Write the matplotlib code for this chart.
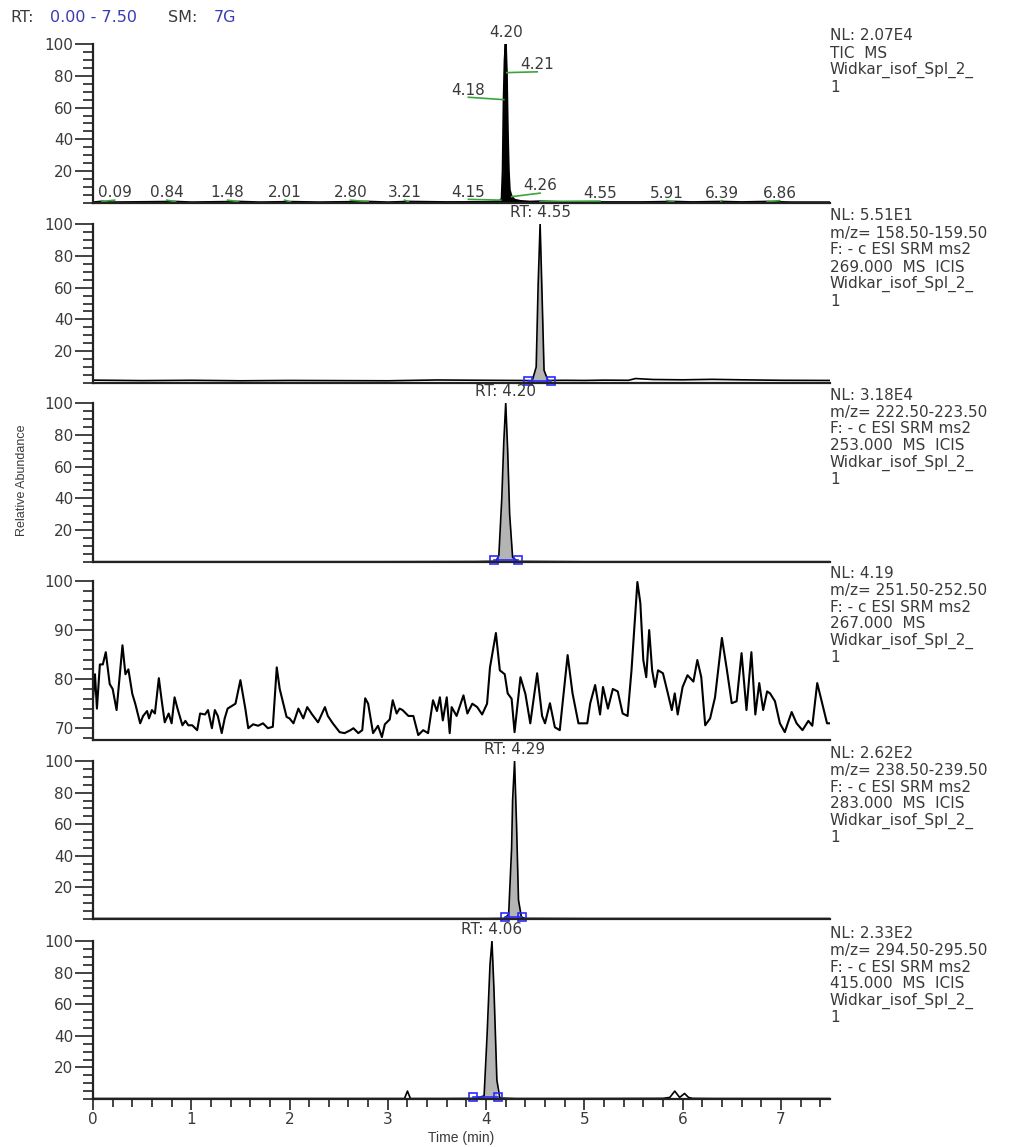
import numpy as np
import matplotlib.pyplot as plt
from matplotlib.ticker import MultipleLocator

plt.rcParams['font.family'] = ['DejaVu Sans']

W, H = 1021, 1147
TXT = '#3a3a3a'
GREEN = '#3aa63a'
BLUE = '#2a2aff'

# ---- panel 1: TIC ----
tic_t = [0.0, 0.09, 0.2, 0.84, 1.0, 1.48, 1.7, 2.01, 2.3, 2.80, 3.0, 3.21, 3.6, 4.0, 4.12,
         4.15, 4.16, 4.17, 4.18, 4.19, 4.20, 4.21, 4.22, 4.23, 4.24, 4.26, 4.29, 4.35, 4.45,
         4.55, 4.8, 5.2, 5.6, 5.91, 6.1, 6.39, 6.6, 6.86, 7.1, 7.5]
tic_v = [0.4, 0.9, 0.4, 0.8, 0.4, 0.8, 0.4, 0.7, 0.4, 0.8, 0.4, 0.8, 0.5, 0.6, 1.0,
         1.8, 3.0, 20, 65, 90, 100, 82, 45, 20, 8, 4, 2.0, 1.2, 0.8,
         1.0, 0.5, 0.5, 0.5, 0.8, 0.5, 0.8, 0.5, 0.8, 0.4, 0.4]
tic_lab = [0.09, 0.84, 1.48, 2.01, 2.80, 3.21, 4.15, 4.18, 4.21, 4.26, 4.55, 5.91, 6.39, 6.86]
tic_lab_v = [0.9, 0.8, 0.8, 0.7, 0.8, 0.8, 1.8, 65, 82, 4, 1.0, 0.8, 0.8, 0.8]
tic_lab_tx = [0.22, 0.75, 1.37, 1.95, 2.62, 3.17, 3.82, 3.82, 4.52, 4.55, 5.16, 5.84, 6.40, 6.99]
tic_lab_ty = [6.3, 6.3, 6.3, 6.3, 6.3, 6.3, 6.8, 71, 87, 10.7, 5.7, 6.0, 6.0, 6.0]

# ---- panel 2: m/z 158.5 ----
p2_t = [0.0, 0.5, 1.0, 1.5, 2.0, 2.5, 3.0, 3.5, 4.0, 4.3, 4.47, 4.51, 4.53, 4.55, 4.57,
        4.59, 4.63, 4.8, 5.0, 5.2, 5.45, 5.52, 5.7, 6.0, 6.3, 6.6, 7.0, 7.5]
p2_v = [1.8, 1.5, 1.7, 1.4, 1.6, 1.5, 1.4, 1.9, 1.7, 1.6, 1.5, 10, 62, 100, 55,
        8, 1.6, 1.7, 1.6, 1.8, 1.7, 2.8, 2.2, 2.0, 2.3, 2.0, 1.7, 1.6]

# ---- panel 3: m/z 222.5 ----
p3_t = [0.0, 1.0, 2.0, 3.0, 3.9, 4.10, 4.13, 4.16, 4.18, 4.20, 4.22, 4.24, 4.27, 4.32, 5.0, 6.0, 7.0, 7.5]
p3_v = [0.2, 0.2, 0.2, 0.2, 0.3, 0.5, 4, 40, 75, 100, 70, 30, 3, 0.4, 0.2, 0.2, 0.2, 0.2]

# ---- panel 4: m/z 251.5 (noise) ----
p4_t = [0.00, 0.02, 0.04, 0.07, 0.10, 0.13, 0.17, 0.20, 0.24, 0.30, 0.33, 0.36, 0.40, 0.43,
        0.48, 0.51, 0.55, 0.57, 0.60, 0.63, 0.67, 0.70, 0.73, 0.77, 0.80, 0.83, 0.86, 0.91,
        0.94, 0.97, 1.01, 1.06, 1.09, 1.14, 1.17, 1.21, 1.24, 1.27, 1.31, 1.34, 1.37, 1.41,
        1.45, 1.50, 1.55, 1.58, 1.63, 1.68, 1.73, 1.78, 1.83, 1.87, 1.90, 1.97, 2.00, 2.04,
        2.09, 2.14, 2.18, 2.23, 2.26, 2.29, 2.36, 2.39, 2.44, 2.51, 2.56, 2.62, 2.65, 2.70,
        2.74, 2.77, 2.80, 2.85, 2.90, 2.94, 2.97, 3.02, 3.05, 3.09, 3.12, 3.15, 3.21, 3.26,
        3.31, 3.36, 3.41, 3.46, 3.50, 3.53, 3.56, 3.60, 3.63, 3.65, 3.70, 3.77, 3.81, 3.86,
        3.91, 3.96, 4.01, 4.04, 4.10, 4.14, 4.19, 4.22, 4.26, 4.29, 4.35, 4.40, 4.45, 4.52,
        4.57, 4.60, 4.65, 4.70, 4.75, 4.83, 4.88, 4.94, 4.99, 5.03, 5.06, 5.11, 5.16, 5.19,
        5.24, 5.29, 5.34, 5.39, 5.44, 5.48, 5.54, 5.57, 5.60, 5.63, 5.66, 5.69, 5.72, 5.75,
        5.80, 5.85, 5.89, 5.92, 5.95, 6.00, 6.05, 6.11, 6.15, 6.19, 6.23, 6.28, 6.33, 6.40,
        6.45, 6.50, 6.55, 6.60, 6.65, 6.70, 6.74, 6.78, 6.82, 6.86, 6.89, 6.94, 6.99, 7.04,
        7.07, 7.11, 7.16, 7.22, 7.28, 7.32, 7.37, 7.42, 7.47, 7.50]
p4_v = [76, 81, 74, 83, 83, 85.5, 79, 78, 73.7, 86.9, 81, 82, 77, 75,
        71, 72.5, 73.5, 72, 73.7, 73, 80.2, 75.5, 71.2, 73, 71, 76.3, 74, 70.6,
        71.5, 70.6, 70.6, 69.6, 73, 72.8, 73.7, 70, 73.7, 72.5, 69, 72, 74, 74.5,
        75, 79.8, 74, 70, 70.8, 70.5, 71, 70, 70.3, 82.4, 78, 72.3, 72, 71,
        74, 72, 74.3, 72.8, 72, 71.2, 74.3, 72.5, 71, 69.2, 69, 69.6, 70, 69,
        69.6, 76.1, 75, 69, 70.5, 68.2, 70.8, 71.8, 75.7, 73, 74, 73.7, 72.5, 72.5,
        68.6, 69.6, 69, 75.7, 73.5, 76.3, 71.6, 76.3, 69, 74.3, 72.5, 76.7, 73, 75,
        74.3, 72.8, 75, 82.4, 89.4, 81.8, 81, 77.1, 76, 69.2, 80.4, 77, 71, 81.2,
        72.5, 71, 75.1, 70.2, 69.6, 84.9, 77.1, 71, 71, 71, 75.1, 78.8, 72.8, 78.4,
        74, 78, 77.5, 73, 72.5, 81.8, 99.8, 95.5, 83.9, 80.4, 90, 81.8, 78.4, 81.8,
        81.2, 77.1, 73.7, 77.1, 72.8, 78.4, 80.8, 79.5, 83.9, 80.4, 70.6, 72, 76.3, 88.4,
        82, 75.1, 75.5, 85.3, 73.7, 85.5, 72.8, 79.2, 73.7, 77.5, 77.1, 75.5, 71, 69.2,
        71, 73.3, 71, 69.6, 71.5, 70.5, 79.2, 75.1, 71, 71]

# ---- panel 5: m/z 238.5 ----
p5_t = [0.0, 1.0, 2.0, 3.0, 4.0, 4.19, 4.23, 4.26, 4.27, 4.29, 4.31, 4.33, 4.36, 4.40, 5.0, 6.0, 7.0, 7.5]
p5_v = [0.3, 0.3, 0.3, 0.3, 0.3, 0.4, 3, 45, 75, 100, 60, 12, 1, 0.4, 0.3, 0.3, 0.3, 0.3]

# ---- panel 6: m/z 294.5 ----
p6_t = [0.0, 1.0, 2.0, 3.0, 3.17, 3.20, 3.23, 3.6, 3.9, 3.98, 4.01, 4.04, 4.06, 4.08, 4.11,
        4.14, 4.3, 5.0, 5.8, 5.87, 5.92, 5.97, 6.02, 6.06, 6.10, 6.3, 7.0, 7.5]
p6_v = [0.3, 0.3, 0.3, 0.3, 0.3, 5, 0.3, 0.3, 0.4, 2, 40, 85, 100, 70, 12,
        0.6, 0.3, 0.3, 0.4, 1.0, 5, 1.0, 3.5, 1.0, 0.4, 0.3, 0.3, 0.3]

srm = [
    (p2_t, p2_v, 4.55, (4.43, 4.66)),
    (p3_t, p3_v, 4.20, (4.08, 4.33)),
    (p5_t, p5_v, 4.29, (4.19, 4.37)),
    (p6_t, p6_v, 4.06, (3.87, 4.12)),
]

info = [
    ["NL: 2.07E4", "TIC  MS", "Widkar_isof_Spl_2_", "1"],
    ["NL: 5.51E1", "m/z= 158.50-159.50", "F: - c ESI SRM ms2", "269.000  MS  ICIS", "Widkar_isof_Spl_2_", "1"],
    ["NL: 3.18E4", "m/z= 222.50-223.50", "F: - c ESI SRM ms2", "253.000  MS  ICIS", "Widkar_isof_Spl_2_", "1"],
    ["NL: 4.19", "m/z= 251.50-252.50", "F: - c ESI SRM ms2", "267.000  MS", "Widkar_isof_Spl_2_", "1"],
    ["NL: 2.62E2", "m/z= 238.50-239.50", "F: - c ESI SRM ms2", "283.000  MS  ICIS", "Widkar_isof_Spl_2_", "1"],
    ["NL: 2.33E2", "m/z= 294.50-295.50", "F: - c ESI SRM ms2", "415.000  MS  ICIS", "Widkar_isof_Spl_2_", "1"],
]

# panel pixel extents (top = 100 %, bottom = axis line)
tops = [44, 224, 403, 581, 761, 941]
bots = [203, 383, 562, 740, 919, 1099]

fig = plt.figure(figsize=(W / 100, H / 100), dpi=100)
fig.patch.set_facecolor('white')

axes = []
for i in range(6):
    ax = fig.add_axes([93 / W, 1 - bots[i] / H, 737 / W, (bots[i] - tops[i]) / H])
    ax.set_xlim(0, 7.5)
    for s in ['top', 'right']:
        ax.spines[s].set_visible(False)
    for s in ['left', 'bottom']:
        ax.spines[s].set_linewidth(1.6)
        ax.spines[s].set_color('#222222')
    ax.tick_params(axis='y', which='major', direction='out', length=13, width=1.2,
                   color='#222222', labelsize=11, labelcolor=TXT, pad=1)
    ax.tick_params(axis='y', which='minor', direction='out', length=7, width=1.2, color='#222222')
    if i == 3:
        ax.set_ylim(67.6, 100)
        ax.set_yticks([70, 80, 90, 100])
        ax.yaxis.set_minor_locator(MultipleLocator(2))
    else:
        ax.set_ylim(0, 100)
        ax.set_yticks([20, 40, 60, 80, 100])
        ax.yaxis.set_minor_locator(MultipleLocator(5))
    if i < 5:
        ax.set_xticks([])
    else:
        ax.set_xticks(range(8))
        ax.xaxis.set_minor_locator(MultipleLocator(0.2))
        ax.tick_params(axis='x', which='major', direction='out', length=8, width=1.2,
                       color='#222222', labelsize=11, labelcolor=TXT, pad=1)
        ax.tick_params(axis='x', which='minor', direction='out', length=6, width=1.2, color='#222222')
    for k, line in enumerate(info[i]):
        fig.text(830 / W, 1 - (tops[i] - 8 + 17 * k) / H, line, ha='left', va='center',
                 fontsize=11, color=TXT)
    axes.append(ax)

# TIC
ax = axes[0]
ax.fill_between(tic_t, 0, tic_v, color='black', lw=0)
ax.plot(tic_t, tic_v, color='black', lw=1.6)
ax.text(4.20, 107, "4.20", ha='center', va='center', fontsize=11, color=TXT, clip_on=False)
for t, v, tx, ty in zip(tic_lab, tic_lab_v, tic_lab_tx, tic_lab_ty):
    ax.plot([t, tx], [v, ty - 4.5], color=GREEN, lw=1.2)
    ax.text(tx, ty, f"{t:.2f}", ha='center', va='center', fontsize=11, color=TXT)

# SRM traces
for ax, (t, v, rt, (b0, b1)) in zip([axes[1], axes[2], axes[4], axes[5]], srm):
    t = np.array(t)
    v = np.array(v)
    m = (t >= b0) & (t <= b1)
    ax.fill_between(t[m], 0, v[m], color='#b4b4b4', lw=0)
    ax.plot(t, v, color='black', lw=1.2)
    ax.plot([b0, b1], [1.0, 1.0], color=BLUE, lw=1.2)
    ax.plot([b0, b1], [1.0, 1.0], ls='none', marker='s', ms=6, mfc='none', mec=BLUE, mew=1.2,
            clip_on=False)
    ax.text(rt, 107, f"RT: {rt:.2f}", ha='center', va='center', fontsize=11, color=TXT,
            clip_on=False)

# noise trace
axes[3].plot(p4_t, p4_v, color='black', lw=1.5)

# header
fig.text(10 / W, 1 - 17 / H, "RT:", ha='left', va='center', fontsize=11.5, color=TXT)
fig.text(50 / W, 1 - 17 / H, "0.00 - 7.50", ha='left', va='center', fontsize=11.5, color='#3a3ab8')
fig.text(168 / W, 1 - 17 / H, "SM:", ha='left', va='center', fontsize=11.5, color=TXT)
fig.text(214 / W, 1 - 17 / H, "7G", ha='left', va='center', fontsize=11.5, color='#3a3ab8')

fig.text(22 / W, 1 - 480 / H, "Relative Abundance", rotation=90, ha='center', va='center',
         fontsize=9, color=TXT, family=['Liberation Sans Narrow', 'Liberation Sans'])
fig.text(461 / W, 1 - 1138 / H, "Time (min)", ha='center', va='center',
         fontsize=10, color=TXT, family=['Liberation Sans Narrow', 'Liberation Sans'])

fig.savefig('out.png', dpi=100, facecolor='white')
